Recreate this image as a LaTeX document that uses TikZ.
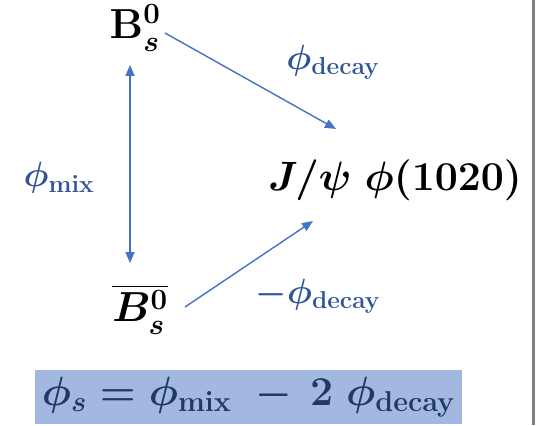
\RequirePackage{fix-cm}
\documentclass[tikz,border=0pt]{standalone}
\usepackage{amsmath}
\usetikzlibrary{arrows.meta}
\definecolor{arr}{HTML}{4472C4}
\definecolor{lab}{HTML}{2F5597}
\definecolor{boxfill}{HTML}{A3B8E0}
\definecolor{boxtext}{HTML}{1F3864}
\definecolor{edge}{HTML}{808080}
\tikzset{
  big/.style={font=\fontsize{42}{48}\selectfont\boldmath, inner sep=0pt},
  lbl/.style={font=\fontsize{35}{40}\selectfont\boldmath, text=lab, inner sep=0pt},
  conn/.style={draw=arr, line width=1.4pt, -{Triangle[length=11pt,width=9pt]}},
  conn2/.style={draw=arr, line width=1.4pt, {Triangle[length=11pt,width=9pt]}-{Triangle[length=11pt,width=9pt]}},
}
\begin{document}
\begin{tikzpicture}[x=1pt,y=-1pt]
\useasboundingbox (0,0) rectangle (537,425);
\fill[white] (0,0) rectangle (537,425);
\fill[edge] (531.5,0) rectangle (534.5,425);
\node[big] (bs) at (135,28) {$\mathrm{B}_{s}^{0}$};
\node[big, font=\fontsize{41}{46}\selectfont\boldmath] (jpsi) at (395,180) {$J/\psi\;\phi(1020)$};
\node[big] (bsbar) at (140,310) {$\overline{B_{s}^{0}}$};
\coordinate (a1s) at (165,33);
\coordinate (a1e) at (336,129);
\coordinate (a2s) at (185,307);
\coordinate (a2e) at (313,221);
\coordinate (vt) at (130,65);
\coordinate (vb) at (130,263);
\draw[conn] (a1s) -- (a1e);
\draw[conn] (a2s) -- (a2e);
\draw[conn2] (vt) -- (vb);
\node[lbl] (ld) at (333,62) {$\phi_{\mathrm{decay}}$};
\node[lbl] (lm) at (59,178) {$\phi_{\mathrm{mix}}$};
\node[lbl] (lmd) at (318,296) {$-\phi_{\mathrm{decay}}$};
\node[fill=boxfill, minimum width=427pt, minimum height=54pt, inner sep=0pt] (box) at (248.5,397) {};
\node[big, font=\fontsize{41}{46}\selectfont\boldmath, text=boxtext] (eq) at (box.center) {$\phi_{s} = \phi_{\mathrm{mix}}\;-\,2\;\phi_{\mathrm{decay}}$};
\end{tikzpicture}
\end{document}
